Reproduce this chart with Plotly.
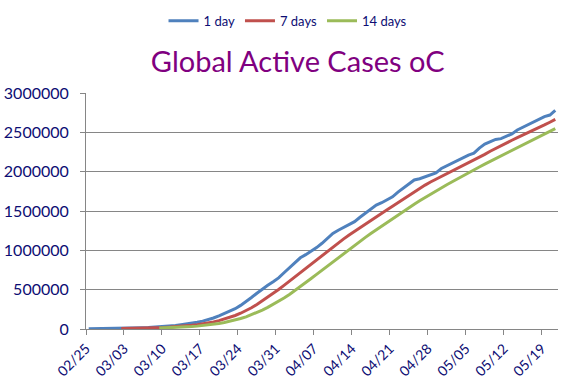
import pandas as pd
import plotly.graph_objects as go

dates = pd.date_range("2020-02-25", "2020-05-21", freq="D")

one_day = [
    2500, 3000, 3800, 4600, 5800, 7000, 8500, 10000, 12000, 14000,
    17000, 20000, 23500, 27000, 31000, 37000, 44000, 55000, 63000, 73000,
    85000, 100000, 117000, 140000, 168000, 195000, 225000, 258000, 300000, 345000,
    400000, 455000, 510000, 555000, 600000, 650000, 715000, 775000, 845000, 905000,
    945000, 985000, 1035000, 1090000, 1150000, 1215000, 1255000, 1290000, 1330000, 1365000,
    1420000, 1475000, 1530000, 1575000, 1605000, 1640000, 1680000, 1740000, 1795000, 1850000,
    1895000, 1910000, 1935000, 1955000, 1985000, 2040000, 2075000, 2110000, 2150000, 2185000,
    2210000, 2235000, 2300000, 2350000, 2385000, 2410000, 2420000, 2450000, 2480000, 2530000,
    2565000, 2600000, 2625000, 2660000, 2700000, 2720000, 2780000,
]

seven_days = [
    None, None, None, None, None, None, 5030, 6100, 7390, 8840,
    10610, 12640, 15000, 17640, 20640, 24210, 28500, 33930, 40070, 47140,
    55430, 65290, 76710, 90430, 106570, 125430, 147140, 171860, 200430, 233000,
    270140, 311140, 356140, 403290, 452140, 502140, 555000, 608570, 664290, 720710,
    776430, 831430, 886430, 940000, 993570, 1046430, 1096430, 1145710, 1195000, 1242140,
    1289290, 1335710, 1380710, 1426430, 1471430, 1515710, 1560710, 1606430, 1652140, 1697860,
    1743570, 1787140, 1829290, 1868570, 1903570, 1938570, 1970710, 2001430, 2035710, 2071430,
    2107860, 2143570, 2180710, 2220000, 2259290, 2296430, 2330000, 2364290, 2399290, 2432140,
    2462860, 2493570, 2524290, 2558570, 2594290, 2628570, 2664290,
]

fourteen_days = [
    None, None, None, None, None, None, None, None, None, None,
    None, None, None, 11340, 13370, 15800, 18670, 22270, 26360, 31070,
    36540, 42960, 50460, 59460, 70250, 82750, 97140, 113640, 132860, 154860,
    180290, 208860, 240790, 275210, 312000, 351290, 394000, 439360, 487710, 538430,
    589860, 641790, 694290, 747500, 801070, 855360, 908570, 961070, 1013210, 1064290,
    1114640, 1164640, 1213570, 1261430, 1308570, 1355360, 1401430, 1447860, 1493930, 1539290,
    1585000, 1629290, 1672500, 1714640, 1755000, 1795360, 1834290, 1872500, 1911430, 1950360,
    1988210, 2023570, 2059640, 2095360, 2130360, 2166070, 2200710, 2236070, 2271430, 2306430,
    2341430, 2376430, 2410360, 2444290, 2479290, 2513930, 2548210,
]

series_names = ["1 day", "7 days", "14 days"]
series_colors = ["#4F81BD", "#C0504D", "#9BBB59"]
title_text = "Global Active Cases oC"
y_ticks = [0, 500000, 1000000, 1500000, 2000000, 2500000, 3000000]
x_tick_dates = pd.date_range("2020-02-25", "2020-05-19", freq="7D")

# points sit in the middle of each day (Excel "between tick marks")
x_pts = dates + pd.Timedelta(hours=12)

text_color = "#0D0D73"
font_family = "Lato, 'Open Sans', sans-serif"

fig = go.Figure()
for name, vals, col in zip(series_names, [one_day, seven_days, fourteen_days], series_colors):
    fig.add_trace(go.Scatter(
        x=x_pts, y=vals, mode="lines", name=name,
        line=dict(color=col, width=3), connectgaps=False,
    ))

fig.update_layout(
    width=577, height=384,
    margin=dict(l=86, r=19, t=93, b=55),
    paper_bgcolor="white", plot_bgcolor="white",
    font=dict(family=font_family, color=text_color, size=13),
    title=dict(text=title_text, x=0.516, xanchor="center", y=0.84, yanchor="middle",
               font=dict(family=font_family, size=29, color="#800080")),
    legend=dict(orientation="h", x=0.428, xanchor="center", y=0.985, yref="container",
                yanchor="top", font=dict(size=13, color=text_color),
                itemwidth=30, traceorder="normal"),
    showlegend=True,
)

fig.update_xaxes(
    type="date",
    range=[dates[0], dates[-1] + pd.Timedelta(days=1)],
    tickvals=list(x_tick_dates),
    ticktext=[d.strftime("%m/%d") for d in x_tick_dates],
    tickangle=-45,
    ticks="outside", ticklen=5, tickcolor="#868686",
    showline=True, linecolor="#868686", linewidth=1,
    showgrid=False, zeroline=False, automargin=False,
    tickfont=dict(size=14, color=text_color),
)
fig.update_yaxes(
    range=[0, 3000000],
    tickvals=y_ticks,
    ticktext=[str(v) for v in y_ticks],
    ticks="outside", ticklen=5, tickcolor="#868686",
    showline=True, linecolor="#868686", linewidth=1,
    showgrid=True, gridcolor="#868686", gridwidth=1,
    zeroline=False, automargin=False,
    ticklabelstandoff=8,
    tickfont=dict(size=16, color=text_color),
)

# remove the page's default body margin so the figure sits at the window's corner
fig.write_html("out.html", config={"displayModeBar": False},
               post_script="document.body.style.margin='0';")
